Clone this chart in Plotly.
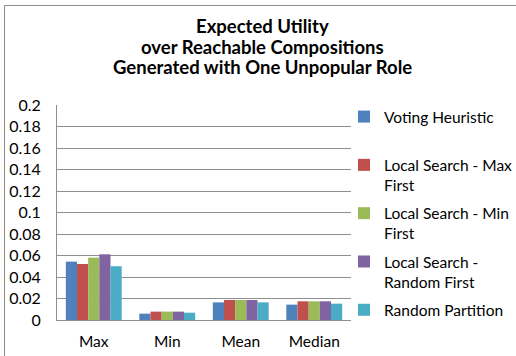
import plotly.graph_objects as go

# Summary statistics of expected utility for each composition method
categories = ["Max", "Min", "Mean", "Median"]
series_names = [
    "Voting Heuristic",
    "Local Search - Max<br>First",
    "Local Search - Min<br>First",
    "Local Search -<br>Random First",
    "Random Partition",
]
voting_heuristic = [0.0543, 0.0059, 0.0164, 0.0143]
ls_max_first = [0.0521, 0.0078, 0.0186, 0.0174]
ls_min_first = [0.0580, 0.0078, 0.0186, 0.0174]
ls_random_first = [0.0611, 0.0078, 0.0186, 0.0174]
random_partition = [0.0500, 0.0068, 0.0164, 0.0152]

y_tick_values = [0, 0.02, 0.04, 0.06, 0.08, 0.1, 0.12, 0.14, 0.16, 0.18, 0.2]
y_tick_labels = ["0", "0.02", "0.04", "0.06", "0.08", "0.1", "0.12", "0.14", "0.16", "0.18", "0.2"]

title_lines = ["Expected Utility", "over Reachable Compositions", "Generated with One Unpopular Role"]

colors = ["#4F81BD", "#C0504D", "#9BBB59", "#8064A2", "#4BACC6"]
all_series = [voting_heuristic, ls_max_first, ls_min_first, ls_random_first, random_partition]

FONT = "Lato"

fig = go.Figure()
for i, (name, vals, col) in enumerate(zip(series_names, all_series, colors)):
    label = name if "<br>" in name or i == len(series_names) - 1 else name + "<br>&nbsp;"
    fig.add_trace(go.Bar(
        x=categories, y=vals, name=label,
        marker=dict(color=col, line=dict(width=0)),
        legendgroup=str(i),
    ))

W, H = 516, 356
L, R, T, B = 57, 165, 105, 36
pw, ph = W - L - R, H - T - B

def px_x(x):
    return (x - L) / pw

def px_y(y):
    return (H - B - y) / ph

fig.update_layout(
    width=W, height=H,
    margin=dict(l=L, r=R, t=T, b=B, autoexpand=False),
    paper_bgcolor="white", plot_bgcolor="white",
    barmode="group", bargap=0.24, bargroupgap=0,
    font=dict(family=FONT, color="#000000", size=15),
    legend=dict(
        x=px_x(344), xanchor="left", y=px_y(100), yanchor="top",
        font=dict(family=FONT, size=15.5, color="#000000"),
        valign="top", tracegroupgap=5, itemwidth=30,
        maxheight=340,
        bgcolor="rgba(0,0,0,0)",
    ),
    xaxis=dict(
        showgrid=False, showline=True, linecolor="#8F8F8F", linewidth=1,
        ticks="", ticklabelstandoff=7, automargin=False,
        tickfont=dict(family=FONT, size=15.5),
    ),
    yaxis=dict(
        range=[0, 0.2], tickvals=y_tick_values, ticktext=y_tick_labels,
        showgrid=True, gridcolor="#8F8F8F", gridwidth=1,
        showline=True, linecolor="#8F8F8F", linewidth=1,
        ticks="", ticklabelstandoff=12, zeroline=False, automargin=False,
        tickfont=dict(family=FONT, size=16),
    ),
    showlegend=True,
)

# Three-line bold chart title
for line, yc in zip(title_lines, [26, 46.5, 67]):
    fig.add_annotation(
        text=f"<b>{line}</b>", xref="paper", yref="paper",
        x=px_x(262), y=px_y(yc), xanchor="center", yanchor="middle",
        showarrow=False, font=dict(family=FONT, size=18.5, color="#000000"),
    )

# Outer frame: top and left edges (the rest falls on the canvas edge)
fig.add_shape(type="line", xref="paper", yref="paper",
              x0=px_x(4.5), x1=px_x(W), y0=px_y(5.5), y1=px_y(5.5),
              line=dict(color="#8C8C8C", width=1), layer="below")
fig.add_shape(type="line", xref="paper", yref="paper",
              x0=px_x(4.5), x1=px_x(4.5), y0=px_y(5.5), y1=px_y(H),
              line=dict(color="#8C8C8C", width=1), layer="below")

fig.write_html("out.html")
